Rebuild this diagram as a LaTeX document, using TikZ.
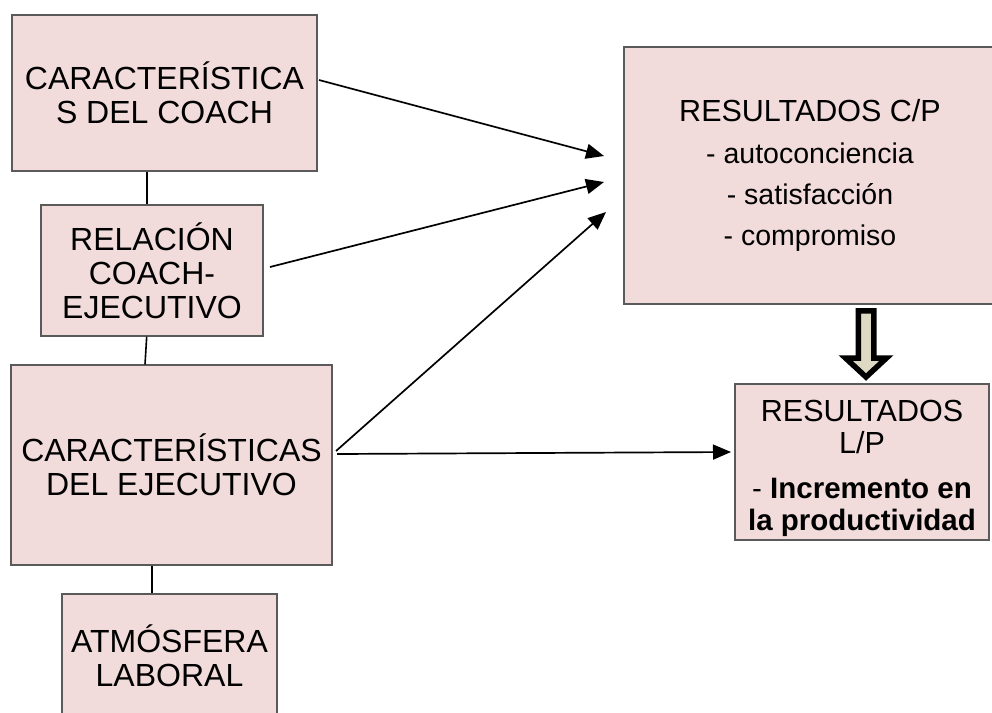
\documentclass[tikz,border=0pt]{standalone}
\usepackage{fontspec}
\setmainfont{Liberation Sans}
\usetikzlibrary{arrows.meta}
\definecolor{boxpink}{RGB}{242,220,219}
\definecolor{boxline}{RGB}{90,90,90}
\definecolor{beige}{RGB}{221,217,195}
\begin{document}
\begin{tikzpicture}[x=1pt,y=-1pt,
  box/.style={draw=boxline, line width=1.2pt, fill=boxpink, inner sep=0pt, align=center,
    font=\fontsize{32}{34}\selectfont},
  link/.style={line width=1.6pt, black},
  arr/.style={line width=1.7pt, black, -{Triangle[length=18pt,width=15pt]}}]
\useasboundingbox (0,0) rectangle (992,712);
\clip (0,0) rectangle (992,712);

\node[box, minimum width=305pt, minimum height=156pt] (c1) at (164.5,93) {CARACTERÍSTICA\\S DEL COACH};
\node[box, minimum width=222pt, minimum height=131pt] (c2) at (152,270.5) {RELACIÓN\\COACH-\\EJECUTIVO};
\node[box, minimum width=321pt, minimum height=200pt] (c3) at (171.5,465) {CARACTERÍSTICAS\\DEL EJECUTIVO};
\node[box, minimum width=215pt, minimum height=123pt] (c4) at (169.5,655.5) {ATMÓSFERA\\LABORAL};

\node[box, minimum width=372pt, minimum height=257pt, font=\fontsize{28.5}{41}\selectfont] (cp) at (810,175.5)
  {{\fontsize{30.5}{41}\selectfont RESULTADOS C/P}\\[1pt]- autoconciencia\\- satisfacción\\- compromiso};
\node[box, minimum width=254pt, minimum height=156pt] (lp) at (862,462) {};
\node[align=center, inner sep=0pt, font=\fontsize{30.5}{32}\selectfont] (lptext) at (862,468)
  {RESULTADOS\\L/P\\[13pt]{\fontsize{29.5}{31}\selectfont - \textbf{Incremento en}}\\{\fontsize{29.5}{31}\selectfont\bfseries la productividad}};

% vertical links
\draw[link] ([xshift=-17.5pt]c1.south) -- ([xshift=-5pt]c2.north);
\draw[link] ([xshift=-5.3pt]c2.south) -- ([xshift=-26.5pt]c3.north);
\draw[link] ([xshift=-19.8pt]c3.south) -- ([xshift=-17.8pt]c4.north);

% arrows
\coordinate (s1) at (319,80);
\coordinate (t1) at (604,156);
\coordinate (s2) at (270,267);
\coordinate (t2) at (604,182);
\coordinate (s3) at (336,451);
\coordinate (t3) at (606,212);
\coordinate (s4) at (337,454);
\coordinate (t4) at (731,452);
\draw[arr] (s1) -- (t1);
\draw[arr] (s2) -- (t2);
\draw[arr] (s3) -- (t3);
\draw[arr] (s4) -- (t4);

% block arrow
\draw[line width=5.5pt, fill=beige, line join=miter]
  (858.25,310.75) -- (873.75,310.75) -- (873.75,358) -- (886.5,358) -- (866,377) -- (845.5,358) -- (858.25,358) -- cycle;
\end{tikzpicture}
\end{document}
